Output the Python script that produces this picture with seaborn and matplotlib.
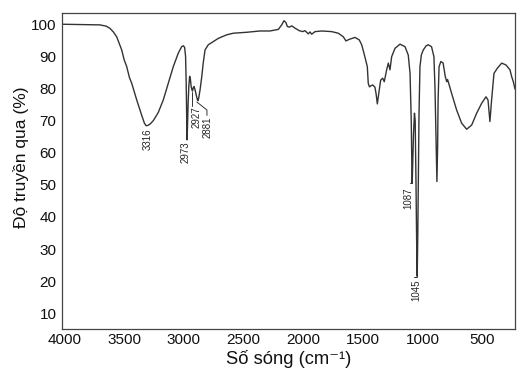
import numpy as np
import pandas as pd
import matplotlib
matplotlib.use("Agg")
import matplotlib.pyplot as plt
import seaborn as sns
from matplotlib import font_manager

# ---- data ----
wavenumber = [4020, 3702, 3650, 3618, 3590, 3562, 3540, 3520, 3500, 3478, 3456, 3436,
              3394, 3353, 3330, 3316, 3300, 3280, 3255, 3214, 3172, 3130, 3088, 3046,
              3018, 3004, 2993, 2985, 2980, 2976, 2973, 2969, 2964, 2958, 2951, 2945,
              2938, 2931, 2927, 2921, 2914, 2905, 2895, 2885, 2881, 2875, 2864, 2850,
              2837, 2822, 2795, 2753, 2711, 2641, 2586, 2473, 2362, 2278, 2208, 2180,
              2161, 2144, 2133, 2116, 2096, 2069, 2033, 2004, 1985, 1957, 1943, 1929,
              1901, 1845, 1761, 1706, 1664, 1642, 1614, 1566, 1530, 1510, 1491, 1474,
              1463, 1455, 1445, 1434, 1418, 1399, 1390, 1379, 1370, 1363, 1351, 1334,
              1321, 1301, 1287, 1273, 1259, 1231, 1189, 1147, 1120, 1105, 1095, 1090,
              1087, 1083, 1076, 1068, 1062, 1055, 1050, 1045, 1040, 1035, 1030, 1022,
              1010, 994, 970, 952, 925, 905, 896, 888, 880, 874, 870, 862, 847, 828,
              810, 798, 791, 785, 757, 715, 673, 631, 589, 547, 505, 469, 452, 436,
              422, 402, 374, 337, 301, 268, 254, 240, 233, 226]
transmittance = [100.0, 99.8, 99.4, 98.7, 97.6, 96.1, 94.0, 92.0, 89.0, 86.8, 83.5, 81.6,
                 76.4, 71.7, 69.2, 68.4, 68.5, 69.0, 70.0, 72.5, 76.4, 81.6, 86.8, 91.0,
                 93.0, 93.3, 92.8, 90.0, 82.0, 72.0, 64.0, 68.0, 75.0, 80.5, 83.8, 83.0,
                 80.5, 79.5, 79.2, 80.2, 80.6, 79.5, 77.8, 76.4, 76.2, 77.0, 79.5, 83.5,
                 88.0, 92.0, 93.6, 94.6, 95.6, 96.7, 97.2, 97.5, 97.9, 97.9, 98.4, 99.8,
                 101.1, 100.5, 99.3, 99.1, 99.5, 98.8, 98.0, 97.7, 98.0, 97.0, 97.6, 96.9,
                 97.7, 97.9, 97.7, 97.2, 96.1, 94.8, 95.3, 95.9, 95.1, 93.6, 91.0, 88.4,
                 86.8, 81.6, 80.5, 80.8, 81.1, 80.4, 78.5, 75.2, 77.5, 79.5, 82.6, 83.2,
                 82.1, 85.8, 87.9, 85.8, 89.9, 92.5, 93.8, 93.0, 90.4, 84.7, 70.0, 56.0,
                 50.5, 56.0, 66.0, 72.3, 70.0, 50.0, 33.0, 21.5, 35.0, 55.0, 72.0, 86.8,
                 90.5, 92.0, 93.3, 93.6, 93.0, 89.9, 80.0, 65.0, 51.0, 62.0, 76.4, 86.8,
                 88.4, 87.9, 83.7, 82.1, 82.8, 82.1, 78.5, 73.3, 69.2, 67.3, 68.6, 72.3,
                 75.4, 77.4, 76.4, 69.7, 76.4, 84.7, 86.3, 87.9, 87.3, 85.8, 83.7, 82.1,
                 81.0, 79.8]

peak_wn = [3316, 2973, 2927, 2881, 1087, 1045]
peak_T = [68.4, 64.0, 79.2, 76.2, 50.5, 21.5]
peak_labels = ["3316", "2973", "2927", "2881", "1087", "1045"]

x_ticks = [4000, 3500, 3000, 2500, 2000, 1500, 1000, 500]
y_ticks = [10, 20, 30, 40, 50, 60, 70, 80, 90, 100]
x_label = "Số sóng (cm⁻¹)"
y_label = "Độ truyền qua (%)"

# ---- style ----
sns.set_style("white")
avail = {f.name for f in font_manager.fontManager.ttflist}
narrow = "Liberation Sans Narrow" if "Liberation Sans Narrow" in avail else "Liberation Sans"
plt.rcParams["font.family"] = ["Liberation Sans", "DejaVu Sans"]

line_color = "#333333"

fig = plt.figure(figsize=(5.23, 3.83), dpi=100)
ax = fig.add_axes([62 / 523, 54 / 383, 453 / 523, 316 / 383])

df = pd.DataFrame({"wn": wavenumber, "T": transmittance})
sns.lineplot(data=df, x="wn", y="T", sort=False, estimator=None, ax=ax,
             color=line_color, linewidth=1.0)

ax.set_xlim(4020, 226)
ax.set_ylim(5.1, 103.5)
ax.set_xticks(x_ticks)
ax.set_yticks(y_ticks)
ax.set_xticklabels([str(v) for v in x_ticks], family=[narrow, "DejaVu Sans"], fontsize=11)
ax.set_yticklabels([str(v) for v in y_ticks], family=[narrow, "DejaVu Sans"], fontsize=11)
ax.tick_params(axis="both", direction="in", length=2.5, width=0.6, color="#777777",
               labelcolor="#111111", pad=4)
ax.tick_params(axis="x", pad=3)
for sp in ax.spines.values():
    sp.set_color("#444444")
    sp.set_linewidth(0.9)

ax.set_xlabel(x_label, family=[narrow, "DejaVu Sans"], fontsize=13.2, color="#111111")
ax.xaxis.set_label_coords(0.5, -0.068)
ax.set_ylabel(y_label, fontsize=12.5, color="#111111")
ax.yaxis.set_label_coords(-0.072, 0.545)

# ---- peak annotations (rotated labels with short leader lines) ----
ann_fs = 7
lc = dict(color=line_color, linewidth=0.7)
# 3316: label directly below the band
ax.text(peak_wn[0] - 16, peak_T[0] - 0.8, peak_labels[0], rotation=90,
        ha="center", va="top", fontsize=ann_fs)
# 2973
ax.text(peak_wn[1] + 8, peak_T[1] - 0.6, peak_labels[1], rotation=90,
        ha="center", va="top", fontsize=ann_fs)
# 2927
ax.plot([peak_wn[2] + 7, peak_wn[2] + 7], [peak_T[2] - 0.3, 74.6], **lc)
ax.text(peak_wn[2] - 32, 74.4, peak_labels[2], rotation=90,
        ha="center", va="top", fontsize=ann_fs)
# 2881
ax.plot([peak_wn[3] + 10, peak_wn[3] - 75, peak_wn[3] - 75],
        [peak_T[3] - 0.4, 73.3, 71.6], **lc)
ax.text(peak_wn[3] - 78, 71.2, peak_labels[3], rotation=90,
        ha="center", va="top", fontsize=ann_fs)
# 1087
ax.plot([peak_wn[4], peak_wn[4] + 22], [peak_T[4], peak_T[4]], **lc)
ax.text(peak_wn[4] + 30, peak_T[4] - 1.2, peak_labels[4], rotation=90,
        ha="center", va="top", fontsize=ann_fs)
# 1045
ax.plot([peak_wn[5], peak_wn[5] + 30], [peak_T[5] - 0.2, peak_T[5] - 0.2], **lc)
ax.text(peak_wn[5] + 4, peak_T[5] - 1.0, peak_labels[5], rotation=90,
        ha="center", va="top", fontsize=ann_fs)

fig.savefig("out.png", dpi=100)
